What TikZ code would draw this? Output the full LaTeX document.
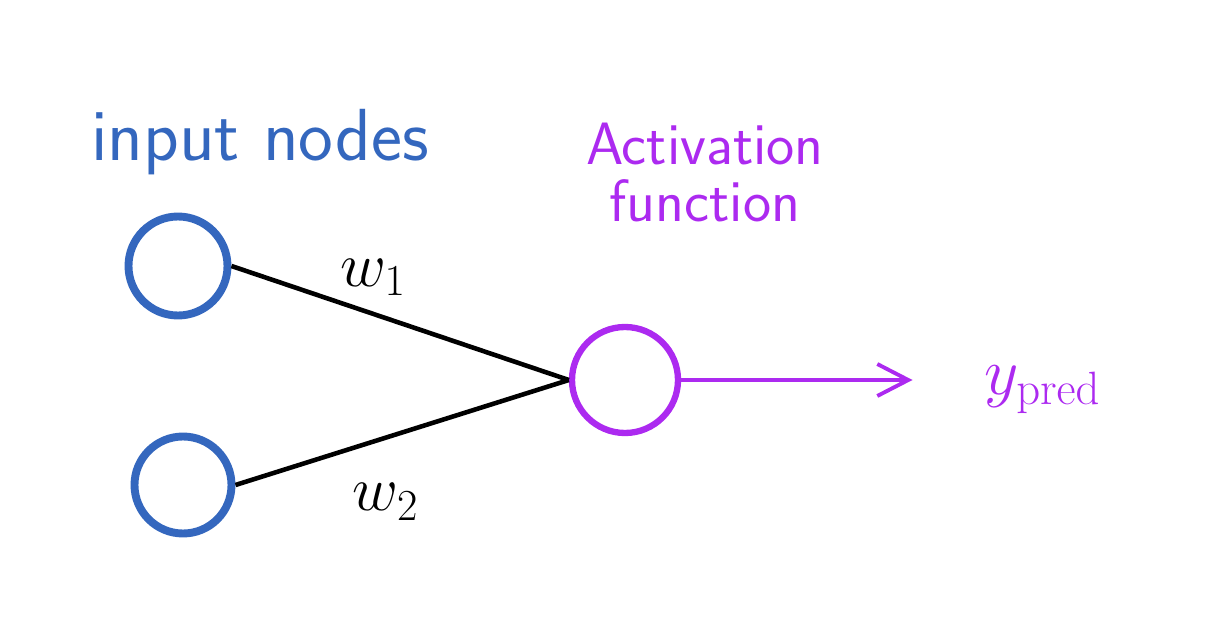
\documentclass[tikz,border=0pt]{standalone}
\usepackage{fix-cm}
\usepackage{xcolor}
\usepackage{tikz}
\usetikzlibrary{arrows.meta, positioning}

\definecolor{inblue}{RGB}{52,103,190}
\definecolor{actpurple}{RGB}{172,42,240}

\begin{document}
\begin{tikzpicture}[
    every node/.style={align=center, font=\sffamily},
    neuron/.style={circle, draw, line width=4.5pt, inner sep=0pt},
    weight/.style={black, line width=2.6pt},
    arrow/.style={-{Straight Barb[length=0.62cm, width=0.64cm, line width=2.2pt]}, actpurple, line width=2.2pt}
]
\useasboundingbox (0,0) rectangle (24.54,-12.68);

% Nodes
\node[neuron, draw=inblue, minimum size=1.98cm] (inA) at (3.56,-5.32) {};
\node[neuron, draw=inblue, minimum size=1.94cm] (inB) at (3.66,-9.70) {};
\node[neuron, draw=actpurple, line width=3.6pt, minimum size=2.12cm] (act) at (12.50,-7.60) {};
\coordinate (out) at (18.25,-7.60);

% Labels
\node[inblue, font=\sffamily\fontsize{42}{44}\selectfont] (inlabel) at (5.20,-2.85) {input nodes};
\node[actpurple, font=\sffamily\fontsize{34}{32}\selectfont] (actlabel) at (14.10,-3.45) {Activation\\function};
\node[actpurple, font=\fontsize{38}{40}\selectfont] (pred) at (20.85,-7.80) {$y_{\mathrm{pred}}$};

% Arrows
\draw[weight] (inA.east) -- (act.west) node[pos=0.42, above=0.2cm] {\fontsize{36}{38}\selectfont$w_1$};
\draw[weight] (inB.east) -- (act.west) node[pos=0.45, below=0.75cm] {\fontsize{36}{38}\selectfont$w_2$};
\draw[arrow] (act.east) -- (out);

\end{tikzpicture}
\end{document}
